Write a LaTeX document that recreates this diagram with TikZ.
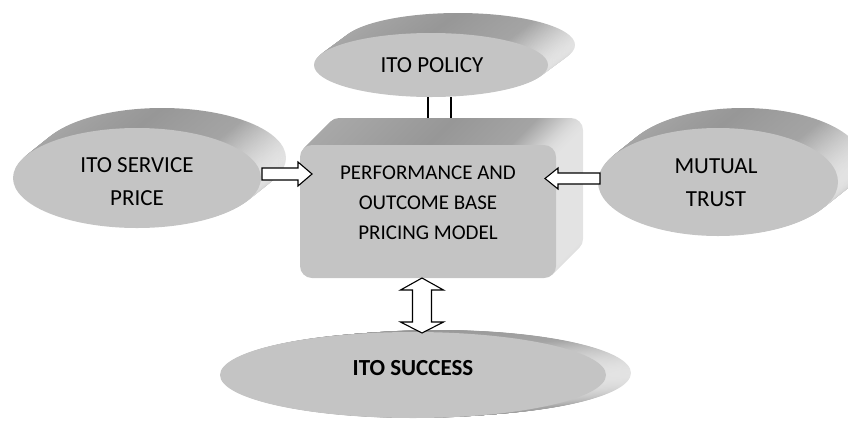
\documentclass[tikz,border=0pt]{standalone}
\usepackage{fontspec}
\setmainfont{Carlito}
\usetikzlibrary{shapes.geometric,calc}
\definecolor{faceC}{HTML}{C4C4C4}
\definecolor{e1}{HTML}{A9A9A9}
\definecolor{e2}{HTML}{979797}
\definecolor{e3}{HTML}{A4A4A4}
\definecolor{e4}{HTML}{E4E4E4}
\pgfdeclarehorizontalshading{extrude}{100bp}{color(0bp)=(e1); color(25bp)=(e1); color(50bp)=(e2); color(66bp)=(e3); color(75bp)=(e4); color(100bp)=(e4)}
\newcommand\extrEll[6]{\foreach \k in {24,...,1}{\pgfmathsetmacro\f{\k/24}\shade[shading=extrude] (#1+\f*#5,#2+\f*#6) ellipse [x radius=#3pt, y radius=#4pt];}}
\newcommand\extrBox[6]{\foreach \k in {27,...,1}{\pgfmathsetmacro\f{\k/27}\shade[shading=extrude, rounded corners=12pt] (#1+\f*#5,#2+\f*#6) rectangle (#3+\f*#5,#4+\f*#6);}}
\tikzset{
  face/.style={fill=faceC, draw=none, inner sep=0pt},
  ell/.style={face, ellipse},
  txt/.style={align=center, font=\fontsize{23}{33}\selectfont, inner sep=0pt},
  btxt/.style={align=center, font=\fontsize{21}{30}\selectfont, inner sep=0pt},
  arr/.style={draw=black, fill=white, line width=1.1pt, line join=miter},
  bar/.style={draw=black, line width=1.1pt}
}
\begin{document}
\begin{tikzpicture}[x=1pt,y=-1pt]
\useasboundingbox (0,0) rectangle (848,421);
% extrusions
\extrEll{431}{65}{117}{32}{27}{-20}
\extrEll{137}{178}{124}{50}{25}{-20}
\extrEll{718}{182}{120}{54}{25}{-20}
\extrBox{300}{145}{556}{278}{27}{-27}
\extrEll{413}{375}{193}{43}{25}{-2}
% front faces
\node[ell, minimum width=234pt, minimum height=64pt] (pol) at (431,65) {};
\node[ell, minimum width=248pt, minimum height=100pt] (sp) at (137,178) {};
\node[ell, minimum width=240pt, minimum height=108pt] (mt) at (718,182) {};
\node[face, rectangle, rounded corners=12pt, minimum width=256pt, minimum height=133pt] (box) at (428,211.5) {};
\node[ell, minimum width=386pt, minimum height=86pt] (suc) at (413,375) {};
% texts
\node[txt] (poltxt) at (432,65) {ITO POLICY};
\node[txt] (sptxt) at (137,181.5) {ITO SERVICE\\PRICE};
\node[txt] (mttxt) at (716,182.5) {MUTUAL\\TRUST};
\node[btxt] (boxtxt) at (428,203) {PERFORMANCE AND\\OUTCOME BASE\\PRICING MODEL};
\node[txt, font=\fontsize{23}{33}\selectfont\bfseries] (suctxt) at (413,368) {ITO SUCCESS};
% top connector (two lines)
\coordinate (btop) at (439.5,118);
\coordinate (ptop) at (btop |- pol.south);
\draw[bar] ([xshift=-11.5pt]ptop) -- ([xshift=-11.5pt]btop);
\draw[bar] ([xshift=11.5pt]ptop) -- ([xshift=11.5pt]btop);
% left arrow
\coordinate (lt) at (262,174);
\coordinate (lh) at (312,174);
\draw[arr] ($(lt)+(0,-6)$) -- ($(lh)+(-14,-6)$) -- ($(lh)+(-14,-12)$) -- (lh) -- ($(lh)+(-14,12)$) -- ($(lh)+(-14,6)$) -- ($(lt)+(0,6)$) -- cycle;
% right arrow
\coordinate (rt) at (600,178.5);
\coordinate (rh) at (545,178.5);
\draw[arr] ($(rt)+(0,-5.5)$) -- ($(rh)+(13,-5.5)$) -- ($(rh)+(13,-10.5)$) -- (rh) -- ($(rh)+(13,10.5)$) -- ($(rh)+(13,5.5)$) -- ($(rt)+(0,5.5)$) -- cycle;
% bottom double arrow
\coordinate (bt) at (422,278);
\coordinate (bb) at (422,333);
\draw[arr] (bt) -- ($(bt)+(21.5,12)$) -- ($(bt)+(9.5,12)$) -- ($(bb)+(9.5,-11)$) -- ($(bb)+(21.5,-11)$) -- (bb) -- ($(bb)+(-21.5,-11)$) -- ($(bb)+(-9.5,-11)$) -- ($(bt)+(-9.5,12)$) -- ($(bt)+(-21.5,12)$) -- cycle;
\end{tikzpicture}
\end{document}
